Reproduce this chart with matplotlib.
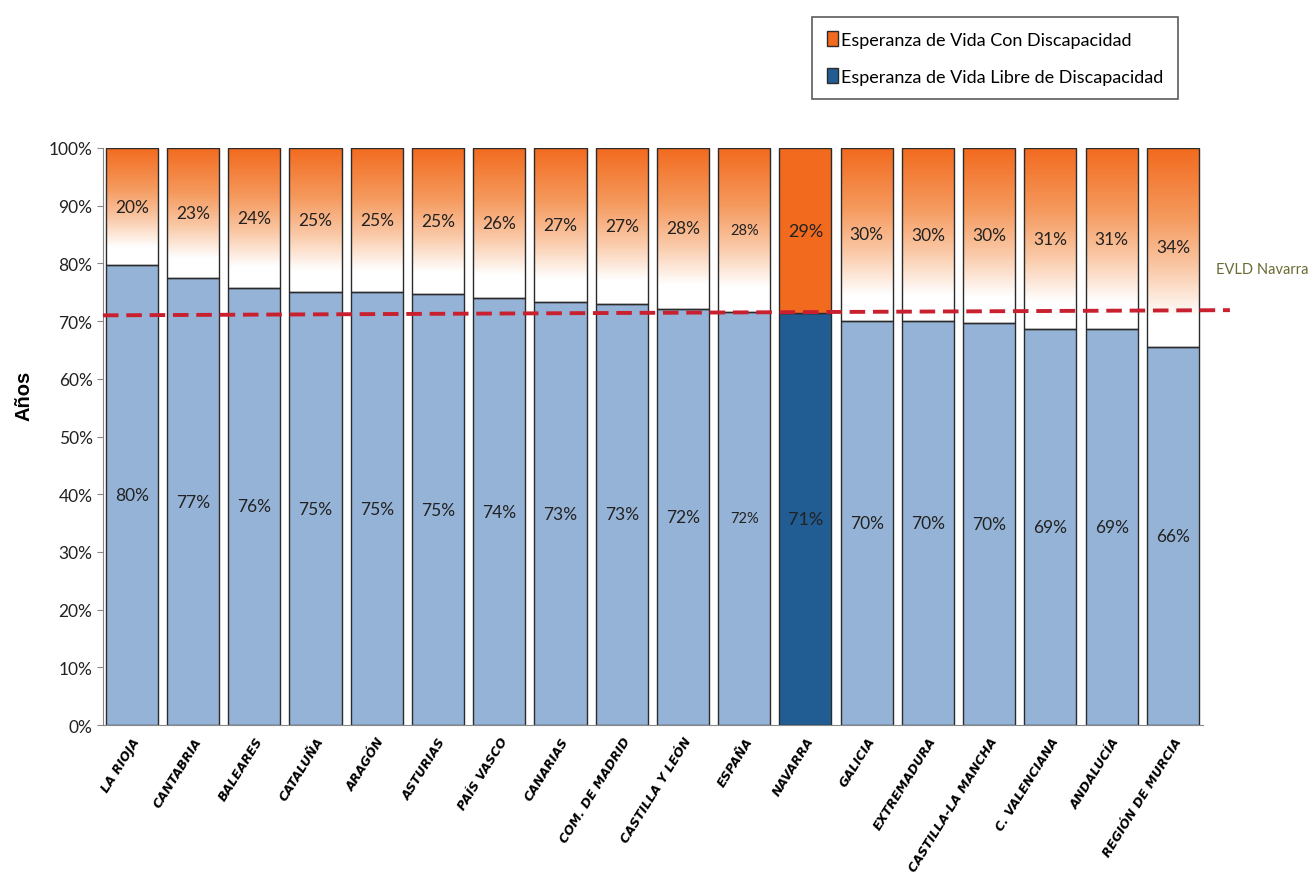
import numpy as np
import matplotlib.pyplot as plt
from matplotlib.colors import LinearSegmentedColormap
from matplotlib.patches import Patch

# Data
regions = ["LA RIOJA", "CANTABRIA", "BALEARES", "CATALUÑA", "ARAGÓN", "ASTURIAS",
           "PAÍS VASCO", "CANARIAS", "COM. DE MADRID", "CASTILLA Y LEÓN", "ESPAÑA",
           "NAVARRA", "GALICIA", "EXTREMADURA", "CASTILLA-LA MANCHA", "C. VALENCIANA",
           "ANDALUCÍA", "REGIÓN DE MURCIA"]
libre = [79.7, 77.4, 75.8, 75.0, 75.0, 74.7, 74.0, 73.3, 73.0, 72.1, 71.6,
         71.4, 70.1, 70.0, 69.7, 68.6, 68.6, 65.6]
evld_line = [71.0, 71.9]  # reference line EVLD Navarra (left end, right end)
highlight = "NAVARRA"

blue_light = "#95B3D7"
blue_dark = "#215C93"
orange = "#F26A1E"
edge = "#2b2b2b"
label_font = ["Lato", "DejaVu Sans"]

grad = LinearSegmentedColormap.from_list(
    "og", [(0, "#F26A1E"), (0.35, "#F59A5E"), (0.6, "#FAC8A6"), (0.85, "#FFFFFF"), (1, "#FFFFFF")])

fig = plt.figure(figsize=(13.15, 8.79), dpi=100)
ax = fig.add_axes([0.0783, 0.174, 0.8365, 0.6565])

x = np.arange(len(regions))
w = 0.85
xlim = (-0.47, len(regions) - 0.51)
ax.set_xlim(*xlim)
ax.set_ylim(0, 100)

gradient = np.linspace(0, 1, 256).reshape(-1, 1)
for i, (r, h) in enumerate(zip(regions, libre)):
    top = 100 - h
    if r == highlight:
        ax.bar(i, h, w, color=blue_dark, edgecolor=edge, linewidth=1, zorder=2)
        ax.bar(i, top, w, bottom=h, color=orange, edgecolor=edge, linewidth=1, zorder=2)
        fs = 13
    else:
        ax.bar(i, h, w, color=blue_light, edgecolor=edge, linewidth=1, zorder=2)
        ax.imshow(gradient, cmap=grad, aspect="auto", origin="upper",
                  extent=[i - w / 2, i + w / 2, h, 100], zorder=1, interpolation="bilinear")
        ax.bar(i, top, w, bottom=h, facecolor="none", edgecolor=edge, linewidth=1, zorder=2)
        fs = 10.5 if r == "ESPAÑA" else 12.5
    ax.text(i, h / 2, f"{round(h)}%", ha="center", va="center", fontsize=fs,
            family=label_font, color="#222222", zorder=3)
    ax.text(i, h + top / 2, f"{round(top)}%", ha="center", va="center", fontsize=fs,
            family=label_font, color="#222222", zorder=3)

ax.set_xlim(*xlim)
ax.set_ylim(0, 100)

# EVLD Navarra line
ax.plot([xlim[0], len(regions) - 0.07], evld_line, color="#C8202F", lw=2.8,
        dashes=(4, 2), clip_on=False, zorder=4)
ax.text(len(regions) - 0.3, 79, "EVLD Navarra", fontsize=10.5, family=label_font,
        color="#6B6A33", va="center", ha="left")

ax.set_yticks(np.arange(0, 101, 10))
ax.set_yticklabels([f"{v}%" for v in range(0, 101, 10)], family=label_font, fontsize=12.5,
                   color="#222222")
ax.set_xticks(x)
ax.set_xticklabels(regions, rotation=58, ha="right", rotation_mode="anchor",
                   family="DejaVu Sans", fontsize=9, fontweight="bold", fontstyle="oblique")
ax.tick_params(axis="x", length=0, pad=7)
ax.tick_params(axis="y", length=4, color="#888888", direction="out")
for s in ["top", "right"]:
    ax.spines[s].set_visible(False)
ax.spines["left"].set_color("#888888")
ax.spines["bottom"].set_color("#888888")

fig.text(0.018, 0.55, "Años", rotation=90, fontsize=14.5, fontweight="bold",
         family=["Liberation Sans", "DejaVu Sans"], va="center", ha="center")

handles = [Patch(facecolor=orange, edgecolor=edge, label="Esperanza de Vida Con Discapacidad"),
           Patch(facecolor=blue_dark, edgecolor=edge, label="Esperanza de Vida Libre de Discapacidad")]
leg = fig.legend(handles=handles, loc="upper left", bbox_to_anchor=(0.611, 0.99),
                 frameon=True, fancybox=False, edgecolor="#333333", handlelength=0.6,
                 handleheight=0.9, handletextpad=0.2, labelspacing=1.1, borderpad=0.8,
                 prop={"family": label_font, "size": 13})
leg.get_frame().set_linewidth(1.2)

fig.savefig("out.png", dpi=100)
